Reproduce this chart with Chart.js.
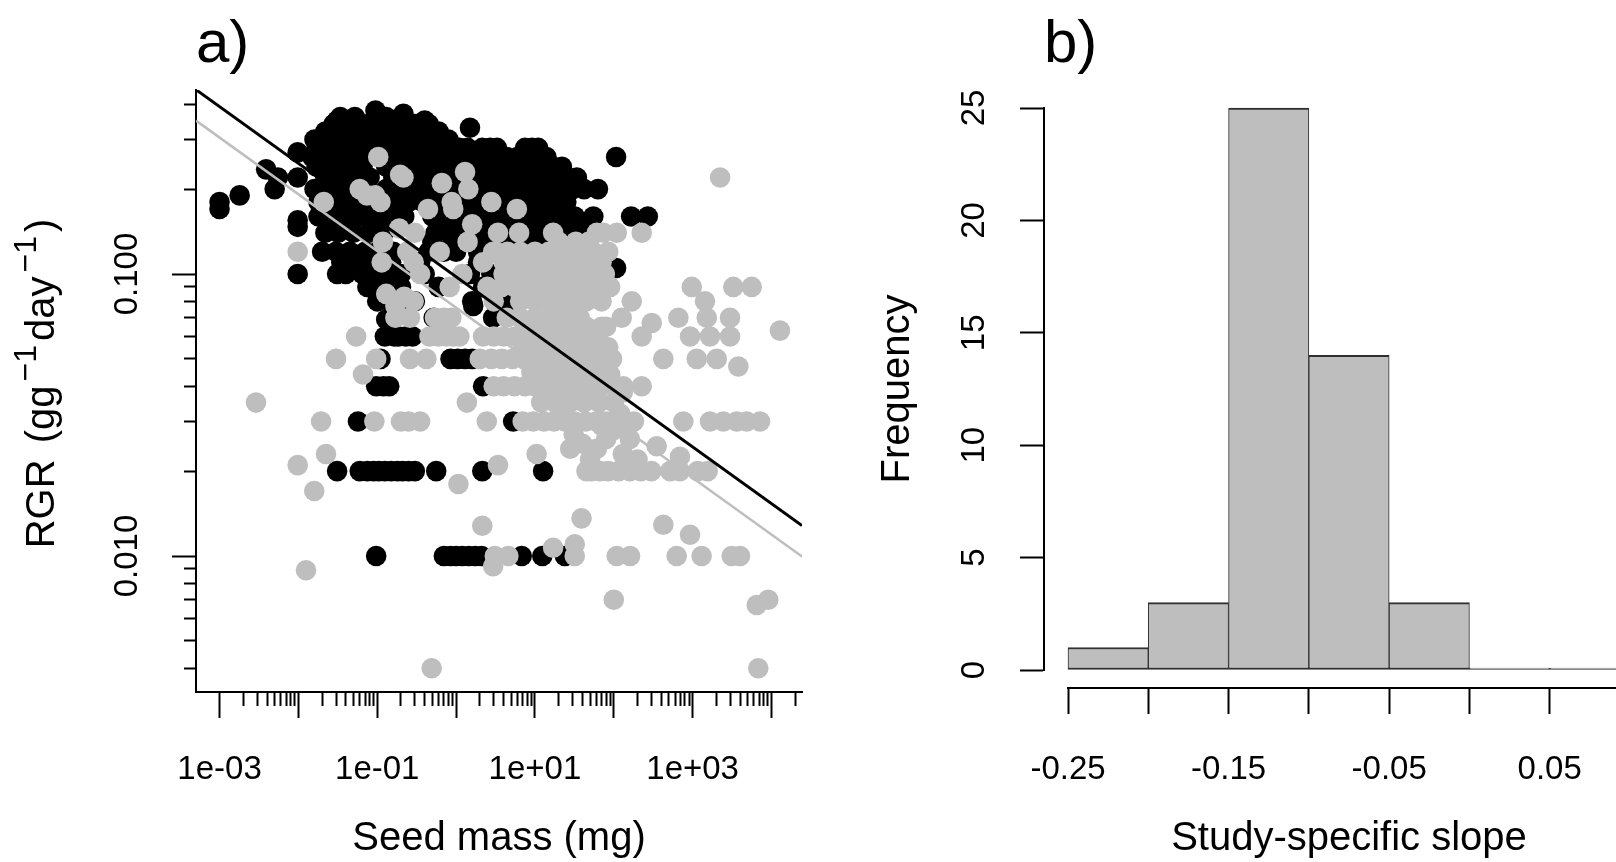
<!DOCTYPE html>
<html><head><meta charset="utf-8">
<script src="https://cdn.jsdelivr.net/npm/chart.js@4/dist/chart.umd.min.js"></script>
<style>
html,body{margin:0;padding:0;background:#fff;overflow:hidden;width:1616px;height:862px;}
#wrapA{position:absolute;left:0;top:0;width:820px;height:862px;}
#wrapB{position:absolute;left:820px;top:0;width:850px;height:862px;}
canvas{display:block;}
</style></head><body>
<div id="wrapA"><canvas id="chartA" width="820" height="862"></canvas></div>
<div id="wrapB"><canvas id="chartB" width="850" height="862"></canvas></div>
<script>
// ================= DATA =================
// Panel a) axis limits (log scales) and tick definitions
const massAxisMin = 0.000503, massAxisMax = 24380;
const rgrAxisMin = 0.003294, rgrAxisMax = 0.4493;
const massMajorTicks = [0.001, 0.01, 0.1, 1, 10, 100, 1000, 10000];
const massTickLabels = ['1e-03', '', '1e-01', '', '1e+01', '', '1e+03', ''];
const rgrMajorTicks = [0.001, 0.01, 0.1];
const rgrTickLabels = ['', '0.010', '0.100'];
const minorMultipliers = [2, 3, 4, 5, 6, 7, 8, 9];

// fitted lines: log10(RGR) = intercept + slope * log10(mass)
const fitSlope = -0.2011;
const blackFitIntercept = -1.0098;
const grayFitIntercept = -1.1193;

// black points [seed mass mg, RGR]
const blackScatter = [
 [0.001,0.18],[0.001,0.17],[0.0018,0.19],[0.0039,0.235],[0.0055,0.22],[0.005,0.2],
 [0.0098,0.27],[0.0098,0.22],[0.0098,0.155],[0.0098,0.147],[0.0098,0.1],[0.031,0.1],
 [0.031,0.35],[0.095,0.38],[0.215,0.37],[0.4,0.35],[1.5,0.33],[2.15,0.28],[9.2,0.28],
 [34,0.22],[42,0.2],[63,0.2],[107,0.26],[166,0.16],[270,0.16],[107,0.105],[45,0.15],
 [0.108,0.09],[0.13,0.069],[0.186,0.06],[0.52,0.07],[1.65,0.077],[2.95,0.07],[19.5,0.069],
 [17,0.1],[23,0.098]
];
// black rows [RGR, [seed masses]]
const blackCloudRows = [
 [0.36,[0.034,0.052,0.13,0.21]],
 [0.34,[0.028,0.045,0.075,0.12,0.19,0.3,0.45]],
 [0.32,[0.022,0.03,0.04,0.062,0.09,0.15,0.24,0.36,0.6]],
 [0.30,[0.016,0.022,0.033,0.05,0.08,0.12,0.18,0.28,0.5,0.8]],
 [0.28,[0.017,0.024,0.037,0.058,0.1,0.16,0.26,0.4,0.62,0.85,1.1,1.4,2.7,3.3,7.5,11]],
 [0.26,[0.015,0.02,0.03,0.045,0.07,0.11,0.17,0.3,0.48,0.7,0.95,1.25,1.6,2.0,2.6,3.3,4.4,6,8,10.5,14]],
 [0.24,[0.017,0.027,0.04,0.065,0.13,0.2,0.32,0.55,0.9,1.5,2.6,3.8,5.1,7.3,10,13,17,22]],
 [0.22,[0.022,0.035,0.05,0.08,0.16,0.3,0.5,0.7,0.95,1.3,1.9,2.5,3.2,4.5,6.5,9,13,16,20,26]],
 [0.20,[0.016,0.026,0.04,0.13,0.2,0.35,0.6,0.8,1.05,1.8,2.4,3.7,4.5,5.5,6.5,8,10,12,16,22,30]],
 [0.18,[0.018,0.03,0.045,0.075,0.16,0.25,0.38,0.5,0.65,0.85,1.1,1.4,1.8,2.4,3.2,4.3,5.5,7,8.5,10,12.5,15,20,25]],
 [0.17,[0.6,1.0,2.0,3.0,5.0,7.5,11,17,23]],
 [0.16,[0.018,0.028,0.04,0.06,0.09,0.14,0.22,0.5,0.7,1.2,1.5,2.1,2.8,3.5,4,6,9,11,13,16,19,25,32,55]],
 [0.15,[0.6,1.0,2.4,4.5,8,12,20]],
 [0.14,[0.022,0.032,0.05,0.08,0.12,0.55,0.9,1.2,1.6,2.2,3,5,7,10,14,18,26,32,40]],
 [0.13,[0.5,0.9,2.2,3.5,6,10,15,22]],
 [0.12,[0.02,0.03,0.045,0.07,0.1,0.16,0.45,0.7,1.0,1.9,4,6,12,20,30]],
 [0.11,[0.035,0.06,0.09,0.15,0.35,1.9,4.5,9,25]],
 [0.10,[0.04,0.065,0.1,0.14,0.2,0.4,1.5,2.8,3.7,8,16]],
 [0.09,[0.075,0.1,0.14,0.2,0.6,2.2,6]],
 [0.08,[0.1,0.14,0.2,0.3,1.6,4.5]]
];
const blackLowRows = [
 [0.06,[0.125,0.165,0.23,0.28]],
 [0.05,[0.11,0.85,1.05,1.3,1.6]],
 [0.04,[0.097,0.12,0.142,2.2]],
 [0.03,[0.057,5.3]],
 [0.02,[0.031,0.06,0.075,0.09,0.105,0.125,0.15,0.18,0.21,0.25,0.3,0.56,2.15,12.7]],
 [0.01,[0.097,0.7,0.85,1.0,1.2,1.45,1.75,2.1,6.8,12.4,24]]
];

// gray points [seed mass mg, RGR]
const grayScatter = [
 [0.103,0.26],[0.215,0.22],[0.195,0.225],[0.06,0.2],[0.094,0.19],[0.11,0.18],[0.074,0.19],[0.021,0.18],
 [0.66,0.21],[1.3,0.23],[1.43,0.2],[0.44,0.17],[0.88,0.18],[0.92,0.17],[2.8,0.18],[5.9,0.17],
 [0.3,0.14],[0.19,0.145],[1.6,0.15],[1.4,0.13],[3.4,0.14],[6.3,0.14],[17,0.14],[3.25,0.12],
 [0.114,0.11],[0.118,0.13],[0.24,0.12],[0.62,0.12],[0.29,0.11],[0.0098,0.12],[2.95,0.12],
 [2230,0.22],[61,0.14],[46,0.11],[0.17,0.077],[0.13,0.085],[0.22,0.083],[0.066,0.044],[0.054,0.06],[0.03,0.05],[0.097,0.05],
 [3800,0.047],[12800,0.063],[303,0.067],
 [0.0029,0.035],[1.37,0.035],[0.0224,0.023],[10.5,0.023],[0.0098,0.021],[3.4,0.021],[1.07,0.018],[0.0159,0.017],
 [39,0.0136],[425,0.0129],[2.15,0.0128],[927,0.0119],[17,0.0107],[32,0.011],[2.95,0.0092],[0.0125,0.0089],
 [100,0.007],[9100,0.007],[6500,0.0067],[0.49,0.004],[6800,0.004],
 [31,0.027],[61,0.024],[100,0.028],[160,0.026],[350,0.0245],[690,0.0225],[20,0.034],[45,0.037],[25,0.045],[60,0.045],
 [40,0.055],[80,0.065],[40,0.025],[50,0.022],[80,0.026],[130,0.023],[200,0.022],[28,0.024],[70,0.029],[120,0.032],
 [180,0.03],[35,0.043],[90,0.044],[130,0.038]
];
// gray rows [RGR, [seed masses]]
const grayCloudRows = [
 [0.14,[74,109,226]],
 [0.13,[20,33,48]],
 [0.12,[4.5,6.5,10,15,24,38,55,85]],
 [0.11,[2.2,4,6,9,13,19,30,70]],
 [0.10,[0.35,1.2,4,5.5,7.5,11,16,25,36,52,77]],
 [0.09,[0.83,2.5,3.8,5.5,8,12,18,27,40,60,90,975,3280,5610]],
 [0.08,[0.29,3,6.5,10,14,20,30,45,70,169,1435]],
 [0.07,[0.17,0.26,0.54,0.7,0.87,4.4,6.5,10,15.5,24,37,126,659,1510,2980]],
 [0.065,[8,12,20,30,45,70]],
 [0.06,[0.46,0.6,0.75,0.92,1.1,2.2,3,4,5.6,7.6,10,13.5,18,25,34,47,63,226,927,1660,2980]],
 [0.055,[7,11,16,24,35,55,85]],
 [0.05,[0.26,0.42,2,2.8,3.8,5.2,7.2,10,14,19,26,36,50,77,95,425,1128,2020]],
 [0.045,[9,13,20,30,45,70]],
 [0.04,[3,4,5.5,7.5,10,14,19,26,36,50,70,100,132,226]],
 [0.035,[12,18,28,42,65,100]],
 [0.03,[0.0194,0.092,0.2,0.25,0.35,2.45,7,9.5,13,17.5,24,32,44,60,80,110,150,762,1660,2450,3620,4850,7160]],
 [0.02,[45,52,67,85,115,160,220,300,520,690,1160,1550]],
 [0.01,[3.1,4.6,32,109,161,628,1300,3130,3990]]
];

// Panel b) histogram of study-specific slopes
const slopeBinStarts = [-0.25, -0.20, -0.15, -0.10, -0.05, 0.00, 0.05];
const slopeBinWidth = 0.05;
const slopeCounts = [1, 3, 25, 14, 3, 0, 0];
const slopeTicks = [-0.25, -0.20, -0.15, -0.10, -0.05, 0.00, 0.05, 0.10];
const slopeTickLabels = ['-0.25', '', '-0.15', '', '-0.05', '', '0.05', ''];
const freqTicks = [0, 5, 10, 15, 20, 25];

// ================= HELPERS =================
const FONT = "'Liberation Sans', Arial, Helvetica, sans-serif";
Chart.defaults.font.family = FONT;
Chart.defaults.color = '#000';

const toPts = arr => arr.map(([m, r]) => ({x: m, y: r}));
const rowsToPts = rows => rows.flatMap(([r, ms]) => ms.map(m => ({x: m, y: r})));
const blackData = toPts(blackScatter).concat(rowsToPts(blackCloudRows), rowsToPts(blackLowRows));
const grayData = toPts(grayScatter).concat(rowsToPts(grayCloudRows));

function fitLine(intercept) {
  return [massAxisMin, massAxisMax].map(m => ({x: m, y: Math.pow(10, intercept + fitSlope * Math.log10(m))}));
}
function buildLogTicks(majors, min, max) {
  const out = [];
  majors.forEach(m => {
    if (m >= min && m <= max) out.push({value: m, isMajor: true});
    minorMultipliers.forEach(k => {
      const v = m * k;
      if (v >= min && v <= max) out.push({value: v, isMajor: false});
    });
  });
  return out.sort((a, b) => a.value - b.value);
}
function logLabel(majors, labels) {
  return v => {
    const idx = majors.findIndex(m => Math.abs(m - v) / m < 1e-6);
    return idx >= 0 ? labels[idx] : '';
  };
}
function fixBox(w, h) {
  return s => {
    if (w !== null) s.width = w;
    if (h !== null) s.height = h;
    s.paddingLeft = 0; s.paddingRight = 0; s.paddingTop = 0; s.paddingBottom = 0;
  };
}

const panelLabel = {
  id: 'panelLabel',
  afterDraw(chart, args, opts) {
    const ctx = chart.ctx;
    ctx.save();
    ctx.font = opts.size + 'px ' + FONT;
    ctx.fillStyle = '#000';
    ctx.textAlign = 'left';
    ctx.textBaseline = 'alphabetic';
    ctx.fillText(opts.text, chart.scales.y.right + opts.dx, opts.baseline);
    ctx.restore();
  }
};

// y-axis title with raised exponents (RGR (gg^-1 day^-1))
const richYTitle = {
  id: 'richYTitle',
  afterDraw(chart, args, o) {
    if (!o || !o.parts) return;
    const ctx = chart.ctx;
    ctx.save();
    ctx.translate(o.x, o.y);
    ctx.rotate(-Math.PI / 2);
    ctx.fillStyle = '#000';
    ctx.textAlign = 'left';
    ctx.textBaseline = 'alphabetic';
    let total = 0;
    const widths = o.parts.map(p => {
      ctx.font = p.size + 'px ' + FONT;
      const w = ctx.measureText(p.text).width + (p.gap || 0);
      total += w;
      return w;
    });
    let x = -total / 2;
    o.parts.forEach((p, i) => {
      ctx.font = p.size + 'px ' + FONT;
      ctx.fillText(p.text, x + (p.gap || 0) / 2, p.rise);
      x += widths[i];
    });
    ctx.restore();
  }
};

const hidden = {grid: {display: false}, border: {display: false}, ticks: {display: false}};

// ================= PANEL A =================
new Chart(document.getElementById('chartA'), {
  type: 'scatter',
  data: {datasets: [
    {label: 'fit black', data: fitLine(blackFitIntercept), showLine: true, borderColor: '#000', borderWidth: 3, pointRadius: 0, order: 1},
    {label: 'fit gray', data: fitLine(grayFitIntercept), showLine: true, borderColor: '#BEBEBE', borderWidth: 2.5, pointRadius: 0, order: 2},
    {label: 'gray', data: grayData, pointBackgroundColor: '#BEBEBE', backgroundColor: '#BEBEBE', pointRadius: 10.3, pointBorderWidth: 0, borderWidth: 0, order: 3},
    {label: 'black', data: blackData, pointBackgroundColor: '#000', backgroundColor: '#000', pointRadius: 10.3, pointBorderWidth: 0, borderWidth: 0, order: 4}
  ]},
  options: {
    responsive: false, animation: false, events: [],
    layout: {padding: {top: 90, right: 18, bottom: 0, left: 0}},
    plugins: {legend: {display: false}, tooltip: {enabled: false},
      panelLabel: {text: 'a)', size: 60, dx: 0, baseline: 62},
      richYTitle: {x: 40, y: 386, parts: [
        {text: 'RGR', size: 40, rise: 14.3, gap: 10},
        {text: ' (gg', size: 40, rise: 14.3},
        {text: '\u22121', size: 32, rise: -4, gap: 8},
        {text: 'day', size: 40, rise: 14.3},
        {text: '\u22121', size: 32, rise: -4, gap: 8},
        {text: ')', size: 40, rise: 14.3}
      ]}},
    scales: {
      x: {
        type: 'logarithmic', position: 'bottom', min: massAxisMin, max: massAxisMax,
        afterBuildTicks: s => { s.ticks = buildLogTicks(massMajorTicks, massAxisMin, massAxisMax); },
        afterFit: fixBox(null, 170),
        grid: {drawOnChartArea: false, drawTicks: true, tickLength: 26, tickWidth: 2, tickColor: '#000',
               tickBorderDash: c => (c.tick && c.tick.isMajor) ? [] : [13, 100]},
        border: {display: true, color: '#000', width: 2},
        ticks: {autoSkip: false, maxRotation: 0, minRotation: 0, padding: 32, color: '#000',
                font: {size: 33}, callback: logLabel(massMajorTicks, massTickLabels)},
        title: {display: true, text: 'Seed mass (mg)', color: '#000', font: {size: 40}, padding: {top: 0, bottom: -0.5}}
      },
      y: {
        type: 'logarithmic', position: 'left', min: rgrAxisMin, max: rgrAxisMax,
        afterBuildTicks: s => { s.ticks = buildLogTicks(rgrMajorTicks, rgrAxisMin, rgrAxisMax); },
        afterFit: fixBox(196, null),
        grid: {drawOnChartArea: false, drawTicks: true, tickLength: 24, tickWidth: 2, tickColor: '#000',
               tickBorderDash: c => (c.tick && c.tick.isMajor) ? [] : [0, 12, 12, 100]},
        border: {display: true, color: '#000', width: 2},
        ticks: {autoSkip: false, minRotation: 90, maxRotation: 90, crossAlign: 'center', padding: 3, color: '#000',
                font: {size: 33}, callback: logLabel(rgrMajorTicks, rgrTickLabels)},
        title: {display: false, text: 'RGR (gg\u207B\u00B9day\u207B\u00B9)'}
      }
    }
  },
  plugins: [panelLabel, richYTitle]
});

// ================= PANEL B =================
new Chart(document.getElementById('chartB'), {
  type: 'bar',
  data: {datasets: [{
    label: 'Frequency',
    data: slopeBinStarts.map((s, i) => ({x: s + slopeBinWidth / 2, y: slopeCounts[i]})),
    backgroundColor: '#BEBEBE', borderColor: '#303030',
    borderWidth: {top: 2, right: 1, bottom: 2, left: 1}, borderSkipped: false,
    barPercentage: 1, categoryPercentage: 1, minBarLength: 2, clip: false
  }]},
  options: {
    responsive: false, animation: false, events: [],
    layout: {padding: {top: 108, right: 40, bottom: 0, left: 0}},
    plugins: {legend: {display: false}, tooltip: {enabled: false},
      panelLabel: {text: 'b)', size: 60, dx: 0, baseline: 62}},
    scales: {
      x: {
        type: 'linear', position: 'bottom', weight: 1, min: -0.25, max: 0.10, offset: false,
        afterBuildTicks: s => { s.ticks = slopeTicks.map(v => ({value: v})); },
        afterFit: fixBox(null, 174),
        grid: {offset: false, drawOnChartArea: false, drawTicks: true, tickLength: 26, tickWidth: 2, tickColor: '#000'},
        border: {display: true, color: '#000', width: 2},
        ticks: {autoSkip: false, maxRotation: 0, minRotation: 0, padding: 36, color: '#000',
                font: {size: 33}, callback: (v, i) => slopeTickLabels[i]},
        title: {display: true, text: 'Study-specific slope', color: '#000', font: {size: 40}, padding: {top: 0, bottom: -0.5}}
      },
      xGap: Object.assign({type: 'linear', position: 'bottom', weight: 0, afterFit: fixBox(null, 18)}, hidden),
      y: {
        type: 'linear', position: 'left', weight: 1, min: 0, max: 25,
        afterBuildTicks: s => { s.ticks = freqTicks.map(v => ({value: v})); },
        afterFit: fixBox(224, null),
        grid: {drawOnChartArea: false, drawTicks: true, tickLength: 24, tickWidth: 2, tickColor: '#000'},
        border: {display: true, color: '#000', width: 2},
        ticks: {autoSkip: false, minRotation: 90, maxRotation: 90, crossAlign: 'center', padding: 26.6, color: '#000',
                font: {size: 33}, callback: v => String(v)},
        title: {display: true, text: 'Frequency', color: '#000', font: {size: 40}, padding: {top: 53.5, bottom: 0}}
      },
      yGap: Object.assign({type: 'linear', position: 'left', weight: 0, afterFit: fixBox(24, null)}, hidden)
    }
  },
  plugins: [panelLabel]
});
</script>
</body></html>
